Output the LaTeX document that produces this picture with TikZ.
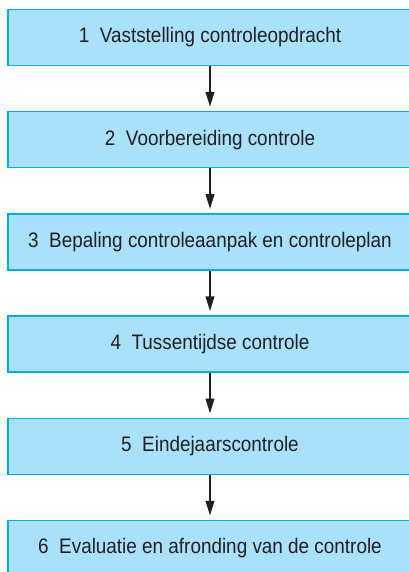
\documentclass[tikz,border=0pt]{standalone}
\usepackage{fontspec}
\setmainfont{Liberation Sans}[FakeStretch=0.9]
\usetikzlibrary{arrows.meta}
\definecolor{boxfill}{RGB}{170,225,250}
\definecolor{boxline}{RGB}{0,174,239}
\definecolor{ink}{RGB}{35,31,32}
\tikzset{
  stepbox/.style={draw=boxline, fill=boxfill, line width=1.5pt, minimum width=404pt,
    minimum height=56pt, inner sep=0pt, text=ink, font=\fontsize{21}{25}\selectfont},
  flow/.style={-{Triangle[length=15pt,width=8.5pt]}, line width=2.2pt, draw=ink, shorten >=4pt}
}
\begin{document}
\begin{tikzpicture}[x=1pt,y=1pt]
\useasboundingbox (0,0) rectangle (408,-572);
\foreach \txt [count=\i] in {Vaststelling controleopdracht, Voorbereiding controle,
  Bepaling controleaanpak en controleplan, Tussentijdse controle,
  Eindejaarscontrole, Evaluatie en afronding van de controle}
\node[stepbox] (s\i) at (210,{-37.5-(\i-1)*102.2}) {\i\enspace\txt};
\foreach \i [evaluate=\i as \j using int(\i+1)] in {1,...,5}
\draw[flow] (s\i.south) -- (s\j.north);
\end{tikzpicture}
\end{document}
